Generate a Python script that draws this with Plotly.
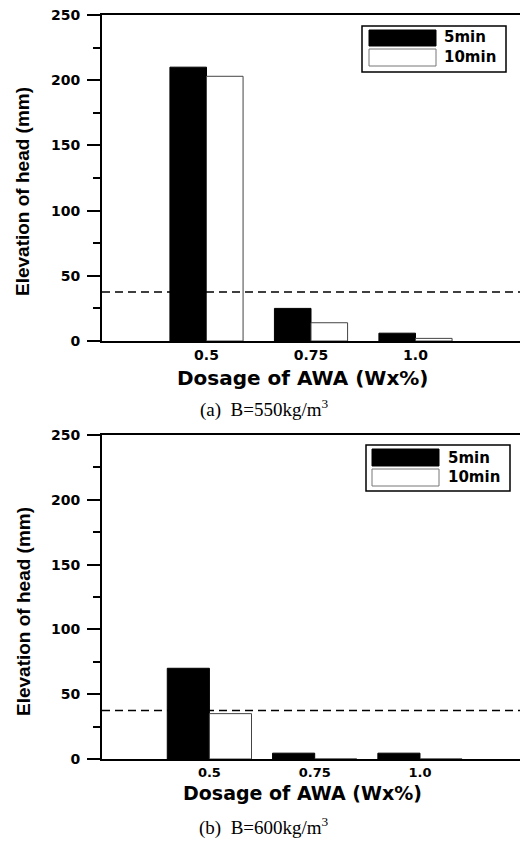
import plotly.graph_objects as go

# ---------------- data ----------------
dosage_labels = ["0.5", "0.75", "1.0"]
series_names = ["5min", "10min"]
a_5min = [210, 25, 6]
a_10min = [203, 14, 2]
b_5min = [70, 4.5, 4.5]
b_10min = [35, 0, 0]
threshold = 37.5
y_ticks = [0, 50, 100, 150, 200, 250]
captions = ["(a)  B=550kg/m<sup>3</sup>", "(b)  B=600kg/m<sup>3</sup>"]
x_title = "Dosage of AWA (Wx%)"
y_title = "Elevation of head (mm)"

W, H = 520, 842
def px(x):
    return x / W
def py(y):
    return 1 - y / H

idx = list(range(len(dosage_labels)))
BOLD = "DejaVu Sans"

fig = go.Figure()

panels = [
    dict(v5=a_5min, v10=a_10min, xa="x", ya="y", top=15, bot=341, width=0.35,
         xrange=[-1, 3], leg=(362, 506, 26, 72, 369, 436, 30, 46, 49, 66, 442, 37.5, 57),
         xt_y=378, xt_size=20, xtick_size=14, cap_y=409, ytitle_y=192),
    dict(v5=b_5min, v10=b_10min, xa="x2", ya="y2", top=435, bot=759, width=0.4,
         xrange=[-1.02, 2.95], leg=(366, 510, 445, 491, 372, 439, 449, 466, 469, 486, 446, 457.5, 477),
         xt_y=793, xt_size=19, xtick_size=13, cap_y=826, ytitle_y=612),
]

shapes = []
annotations = []
for i, p in enumerate(panels):
    w = p["width"]
    fig.add_trace(go.Bar(x=idx, y=p["v5"], name=series_names[0], width=w, offset=-w,
                         marker=dict(color="black", line=dict(color="black", width=1)),
                         xaxis=p["xa"], yaxis=p["ya"], showlegend=False))
    fig.add_trace(go.Bar(x=idx, y=p["v10"], name=series_names[1], width=w, offset=0,
                         marker=dict(color="white", line=dict(color="#444", width=1)),
                         xaxis=p["xa"], yaxis=p["ya"], showlegend=False))
    # threshold dashed line
    shapes.append(dict(type="line", xref=f"{p['xa']} domain", x0=0, x1=1,
                       yref=p["ya"], y0=threshold, y1=threshold,
                       line=dict(color="black", width=1.5, dash="8px,5px")))
    # custom legend
    (bx0, bx1, by0, by1, sx0, sx1, k0, k1, w0, w1, tx, t5, t10) = p["leg"]
    shapes.append(dict(type="rect", xref="paper", yref="paper", x0=px(bx0), x1=px(bx1),
                       y0=py(by1), y1=py(by0), line=dict(color="black", width=1.5),
                       fillcolor="white", layer="above"))
    shapes.append(dict(type="rect", xref="paper", yref="paper", x0=px(sx0), x1=px(sx1),
                       y0=py(k1), y1=py(k0), line=dict(color="black", width=1),
                       fillcolor="black", layer="above"))
    shapes.append(dict(type="rect", xref="paper", yref="paper", x0=px(sx0), x1=px(sx1),
                       y0=py(w1), y1=py(w0), line=dict(color="#777", width=1),
                       fillcolor="white", layer="above"))
    for name, ty in zip(series_names, [t5, t10]):
        annotations.append(dict(text=name, xref="paper", yref="paper", x=px(tx), y=py(ty),
                                xanchor="left", yanchor="middle", showarrow=False,
                                font=dict(family=BOLD, size=15, color="black", weight="bold")))
    # axis titles and caption
    annotations.append(dict(text=x_title, xref="paper", yref="paper", x=px(302), y=py(p["xt_y"]),
                            xanchor="center", yanchor="middle", showarrow=False,
                            font=dict(family=BOLD, size=p["xt_size"], color="black", weight="bold")))
    annotations.append(dict(text=y_title, xref="paper", yref="paper", x=px(23), y=py(p["ytitle_y"]),
                            xanchor="center", yanchor="middle", showarrow=False, textangle=-90,
                            font=dict(family="Liberation Sans", size=19, color="black", weight="bold")))
    annotations.append(dict(text=captions[i], xref="paper", yref="paper", x=px(264), y=py(p["cap_y"]),
                            xanchor="center", yanchor="middle", showarrow=False,
                            font=dict(family="Liberation Serif", size=19, color="black")))

    xkey = "xaxis" if i == 0 else "xaxis2"
    ykey = "yaxis" if i == 0 else "yaxis2"
    fig.layout[xkey] = dict(domain=[px(102), 1], anchor=p["ya"], range=p["xrange"],
                            tickmode="array", tickvals=idx, ticktext=dosage_labels,
                            showline=True, linecolor="black", linewidth=2, mirror=True,
                            ticks="", ticklen=0, ticklabelstandoff=0,
                            showgrid=False, zeroline=False, automargin=False,
                            tickfont=dict(family=BOLD, size=p["xtick_size"], color="black", weight="bold"))
    fig.layout[ykey] = dict(domain=[py(p["bot"]), py(p["top"])], anchor=p["xa"], range=[0, 250],
                            tickmode="array", tickvals=y_ticks, automargin=False,
                            showline=True, linecolor="black", linewidth=2,
                            ticks="outside", ticklen=13, tickwidth=1.5, tickcolor="black",
                            ticklabelstandoff=4,
                            minor=dict(tickmode="linear", tick0=25, dtick=50, ticks="outside",
                                       ticklen=7, tickwidth=1.5, tickcolor="black"),
                            showgrid=False, zeroline=False,
                            tickfont=dict(family=BOLD, size=14, color="black", weight="bold"))

fig.update_layout(width=W, height=H, margin=dict(l=0, r=0, t=0, b=0, pad=0, autoexpand=False),
                  paper_bgcolor="white", plot_bgcolor="white",
                  barmode="overlay", shapes=shapes, annotations=annotations,
                  showlegend=False)

fig.write_html("out.html")
